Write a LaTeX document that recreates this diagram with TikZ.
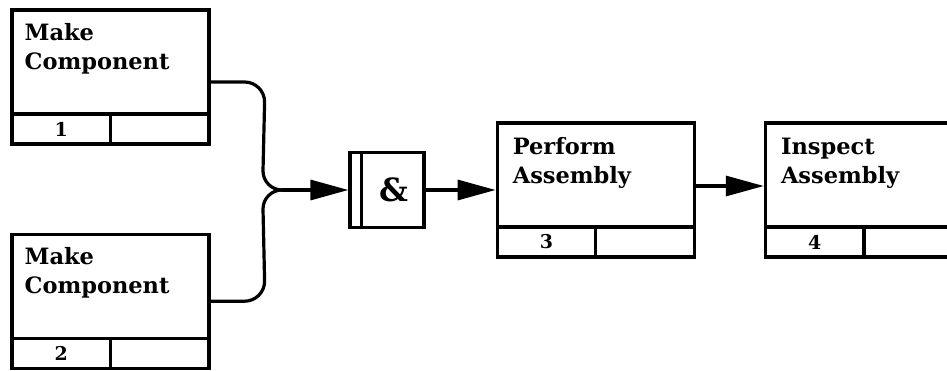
\documentclass[tikz,border=0pt]{standalone}
\usepackage{fontspec}
\usepackage{xcolor}
\usepackage{tikz}
\usetikzlibrary{arrows.meta, positioning, calc}
\setmainfont{DejaVu Serif}

\begin{document}
\begin{tikzpicture}[x=1pt, y=1pt,
        % 1. STYLES
        act/.style={draw, line width=3.2pt, minimum width=197pt, minimum height=134pt, inner sep=0pt},
        % text in the upper part of an activity box
        actlabel/.style={anchor=north west, align=left, inner sep=0pt,
            font=\bfseries\fontsize{22.5}{29}\selectfont},
        % cells of the strip at the bottom of a box
        cell/.style={draw, line width=3.2pt, minimum width=98.5pt, minimum height=30pt,
            inner sep=0pt, font=\bfseries\fontsize{19}{19}\selectfont},
        % junction box
        andbox/.style={draw, line width=3.2pt, minimum width=74pt, minimum height=75pt,
            inner sep=0pt, font=\bfseries\fontsize{32}{32}\selectfont},
        link/.style={line width=3.2pt},
        arrow/.style={link, -{Triangle[length=38pt, width=20pt]}}
    ]
        \clip (0,0) rectangle (947,370);

        % 2. BOXES (NODES)
        \node[act] (act1) at (110.5,293) {};
        \node[act, below=87pt of act1] (act2) {};
        \node[andbox] (amp) at (387,180) {\hspace*{14pt}\&};
        \node[act, right=70pt of amp] (act3) {};
        \node[act, right=68pt of act3] (act4) {};

        % labels inside the boxes
        \node[actlabel] (act1text) at ([shift={(14pt,-15pt)}]act1.north west) {Make\\Component};
        \node[actlabel] (act2text) at ([shift={(14pt,-15pt)}]act2.north west) {Make\\Component};
        \node[actlabel] (act3text) at ([shift={(17pt,-16pt)}]act3.north west) {Perform\\Assembly};
        \node[actlabel] (act4text) at ([shift={(17pt,-16pt)}]act4.north west) {Inspect\\Assembly};

        % number strip of each box
        \node[cell, anchor=south west] (act1num) at (act1.south west) {1};
        \node[cell, anchor=south east] (act1ref) at (act1.south east) {};
        \node[cell, anchor=south west] (act2num) at (act2.south west) {2};
        \node[cell, anchor=south east] (act2ref) at (act2.south east) {};
        \node[cell, anchor=south west] (act3num) at (act3.south west) {3};
        \node[cell, anchor=south east] (act3ref) at (act3.south east) {};
        \node[cell, anchor=south west] (act4num) at (act4.south west) {4};
        \node[cell, anchor=south east] (act4ref) at (act4.south east) {};

        % double bar on the left of the junction box
        \draw[line width=3.2pt] ([xshift=13pt]amp.north west) -- ([xshift=13pt]amp.south west);

        % 3. CONNECTORS
        \coordinate (join) at (282,180);
        \coordinate (upbend) at ([shift={(-19pt,19pt)}]join);
        \coordinate (downbend) at ([shift={(-19pt,-19pt)}]join);
        \draw[link] ([yshift=-5pt]act1.east) -- ++(34pt,0)
            arc[start angle=90, end angle=0, radius=20pt] -- (upbend)
            arc[start angle=180, end angle=270, radius=19pt];
        \draw[link] (act2.east) -- ++(34pt,0)
            arc[start angle=-90, end angle=0, radius=20pt] -- (downbend)
            arc[start angle=180, end angle=90, radius=19pt];
        \draw[arrow] (join) -- (amp.west);
        \draw[arrow] (amp) -- (act3);
        \draw[arrow] ([yshift=4pt]act3.east) -- ([yshift=4pt]act4.west);

    \end{tikzpicture}
\end{document}
